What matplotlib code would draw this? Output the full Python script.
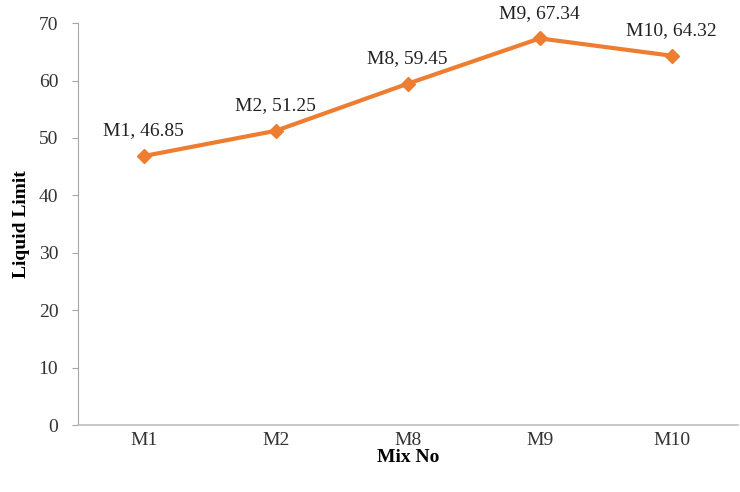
import matplotlib.pyplot as plt

mixes = ["M1", "M2", "M8", "M9", "M10"]
liquid_limit = [46.85, 51.25, 59.45, 67.34, 64.32]

plt.rcParams['font.family'] = ['Liberation Serif', 'DejaVu Serif']

fig = plt.figure(figsize=(7.4, 4.92), dpi=100)
ax = fig.add_axes([0.105, 0.136, 0.892, 0.817])

x = range(len(mixes))
ax.plot(x, liquid_limit, color='#ED7D31', linewidth=3, marker='D', markersize=7)

for xi, name, val in zip(x, mixes, liquid_limit):
    ax.annotate(f"{name}, {val:.2f}", (xi, val), xytext=(0, 12),
                textcoords='offset points', ha='center', va='bottom',
                fontsize=14, color='#222222')

ax.set_xlim(-0.5, len(mixes) - 0.5)
ax.set_ylim(0, 70)
ax.set_yticks(range(0, 71, 10))
ax.set_xticks(list(x))
ax.set_xticklabels(mixes)

for side in ['top', 'right']:
    ax.spines[side].set_visible(False)
ax.spines['left'].set_color('#A6A6A6')
ax.spines['bottom'].set_color('#BFBFBF')
ax.spines['bottom'].set_linewidth(1.2)
ax.tick_params(axis='y', length=4, color='#A6A6A6', labelsize=14, pad=10, labelcolor='#333333')
ax.tick_params(axis='x', length=0, labelsize=14, pad=5, labelcolor='#333333')

ax.set_xlabel('Mix No', fontsize=14, fontweight='bold', labelpad=0)
ax.set_ylabel('Liquid Limit', fontsize=14, fontweight='bold', labelpad=6)

fig.savefig('out.png', dpi=100)
